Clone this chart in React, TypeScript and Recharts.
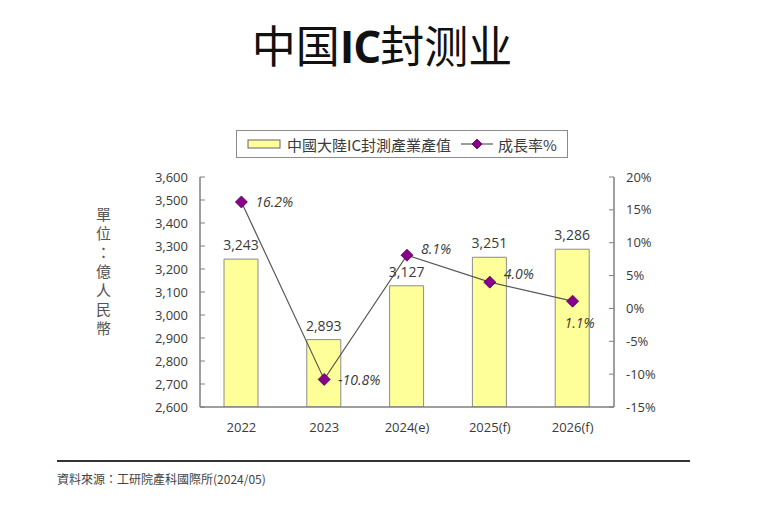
import React from "react";
import { Bar, ComposedChart, LabelList, Line, XAxis, YAxis } from "recharts";

const years = ["2022", "2023", "2024(e)", "2025(f)", "2026(f)"];
const output = [3243, 2893, 3127, 3251, 3286];
const growth = [16.2, -10.8, 8.1, 4.0, 1.1];
const leftTicks = [2600, 2700, 2800, 2900, 3000, 3100, 3200, 3300, 3400, 3500, 3600];
const rightTicks = [-15, -10, -5, 0, 5, 10, 15, 20];
const dividerTicks = [1, 2, 3, 4];

const data = years.map((year, i) => ({
  year,
  output: output[i],
  growth: growth[i],
  slot: i + 0.5,
}));

const FONT = "'Open Sans', 'Noto Sans CJK TC', sans-serif";
const FRAME = "#7f7f7f";
const TEXT = "#3a3a3a";

function Diamond(props) {
  const { cx, cy } = props;
  if (cx == null || cy == null) return null;
  const s = 6;
  return (
    <polygon
      points={`${cx},${cy - s} ${cx + s},${cy} ${cx},${cy + s} ${cx - s},${cy}`}
      fill="#8b008b"
      stroke="#4a004a"
      strokeWidth={0.8}
    />
  );
}

// small nudges so the labels clear the line, like the original
const labelLift = [0, 1, -6, -8, 0];

function GrowthLabel(props) {
  const { x, y, value, index } = props;
  const below = index === growth.length - 1;
  const lx = below ? x + 7 : x + 14;
  const ly = below ? y + 22 : y + labelLift[index];
  return (
    <text
      x={lx}
      y={ly}
      dy="0.35em"
      fontSize={14}
      fontStyle="italic"
      fontFamily={FONT}
      fill={TEXT}
      textAnchor={below ? "middle" : "start"}
    >
      {value.toFixed(1)}%
    </text>
  );
}

function LegendBox() {
  return (
    <div
      style={{
        position: "absolute",
        left: 236,
        top: 130,
        width: 332,
        height: 28,
        border: "1px solid #8c8c8c",
        background: "#fff",
        display: "flex",
        alignItems: "center",
        fontFamily: "'Noto Sans CJK TC', sans-serif",
        fontSize: 15,
        color: TEXT,
        boxSizing: "border-box",
      }}
    >
      <svg width={36} height={14} style={{ marginLeft: 9 }}>
        <rect x={2} y={3} width={32} height={8} fill="#ffff99" stroke="#666" strokeWidth={1} />
      </svg>
      <span style={{ marginLeft: 5 }}>中國大陸IC封測產業產值</span>
      <svg width={36} height={14} style={{ marginLeft: 8 }}>
        <line x1={2} y1={7} x2={34} y2={7} stroke="#595959" strokeWidth={1.2} />
        <polygon points="18,2 23,7 18,12 13,7" fill="#8b008b" stroke="#4a004a" strokeWidth={0.8} />
      </svg>
      <span style={{ marginLeft: 3 }}>成長率%</span>
    </div>
  );
}

export default function App() {
  return (
    <div style={{ position: "absolute", left: 0, top: 0, width: 764, height: 517, background: "#fff" }}>
      <div
        style={{
          position: "absolute",
          left: 0,
          width: 764,
          top: 16,
          textAlign: "center",
          fontFamily: "'Noto Sans CJK SC', serif",
          fontWeight: 400,
          fontSize: 44,
          color: "#111",
          lineHeight: "56px",
        }}
      >
        中国
        <span style={{ fontFamily: "'Open Sans', sans-serif", fontWeight: 700, letterSpacing: -1 }}>IC</span>
        封测业
      </div>

      <div
        style={{
          position: "absolute",
          left: 94,
          top: 207,
          writingMode: "vertical-rl",
          fontFamily: "'Noto Sans CJK TC', sans-serif",
          fontSize: 15,
          color: "#555",
          lineHeight: "18px",
          letterSpacing: 4,
        }}
      >
        單位：億人民幣
      </div>

      <LegendBox />

      <ComposedChart
        width={764}
        height={517}
        data={data}
        margin={{ top: 177, right: 0, bottom: 0, left: 0 }}
        style={{ position: "absolute", left: 0, top: 0 }}
      >
        <XAxis
          xAxisId="div"
          dataKey="slot"
          type="number"
          domain={[0, 5]}
          ticks={dividerTicks}
          height={0}
          axisLine={false}
          tick={false}
          tickLine={{ stroke: FRAME }}
          tickSize={-5}
        />
        <XAxis
          dataKey="year"
          xAxisId="cat"
          height={110}
          interval={0}
          tickLine={false}
          axisLine={{ stroke: FRAME, strokeWidth: 1.5 }}
          tickMargin={10}
          tick={{ fill: TEXT, fontSize: 13, fontFamily: FONT }}
        />
        <XAxis
          xAxisId="top"
          orientation="top"
          dataKey="year"
          height={0}
          tick={false}
          tickLine={false}
          axisLine={{ stroke: FRAME, strokeWidth: 1.5 }}
        />
        <YAxis
          yAxisId="left"
          width={200}
          domain={[2600, 3600]}
          ticks={leftTicks}
          interval={0}
          allowDataOverflow
          tickFormatter={(v) => v.toLocaleString("en-US")}
          tickSize={-5}
          tickMargin={17}
          tickLine={{ stroke: FRAME }}
          axisLine={{ stroke: FRAME, strokeWidth: 1.5 }}
          tick={{ fill: TEXT, fontSize: 13, fontFamily: FONT }}
        />
        <YAxis
          yAxisId="right"
          orientation="right"
          width={150}
          domain={[-15, 20]}
          ticks={rightTicks}
          interval={0}
          tickFormatter={(v) => `${v}%`}
          tickSize={-5}
          tickMargin={17}
          tickLine={{ stroke: FRAME }}
          axisLine={{ stroke: FRAME, strokeWidth: 1.5 }}
          tick={{ fill: TEXT, fontSize: 13, fontFamily: FONT }}
        />
        <Bar
          dataKey="output"
          xAxisId="cat"
          yAxisId="left"
          barSize={34}
          fill="#ffff99"
          stroke="#8c8c8c"
          strokeWidth={1}
          isAnimationActive={false}
        >
          <LabelList
            dataKey="output"
            position="top"
            offset={9}
            formatter={(v) => v.toLocaleString("en-US")}
            style={{ fill: TEXT, fontSize: 14, fontFamily: FONT }}
          />
        </Bar>
        <Line
          dataKey="growth"
          xAxisId="cat"
          yAxisId="right"
          stroke="#595959"
          strokeWidth={1.2}
          dot={<Diamond />}
          activeDot={false}
          isAnimationActive={false}
        >
          <LabelList dataKey="growth" content={<GrowthLabel />} />
        </Line>
      </ComposedChart>

      <div
        style={{
          position: "absolute",
          left: 57,
          top: 460,
          width: 633,
          height: 0,
          borderTop: "2px solid #333",
        }}
      />
      <div
        style={{
          position: "absolute",
          left: 57,
          top: 470,
          fontFamily: "'Noto Sans CJK TC', sans-serif",
          fontSize: 12,
          color: "#444",
        }}
      >
        資料來源：工研院產科國際所(2024/05)
      </div>
    </div>
  );
}
